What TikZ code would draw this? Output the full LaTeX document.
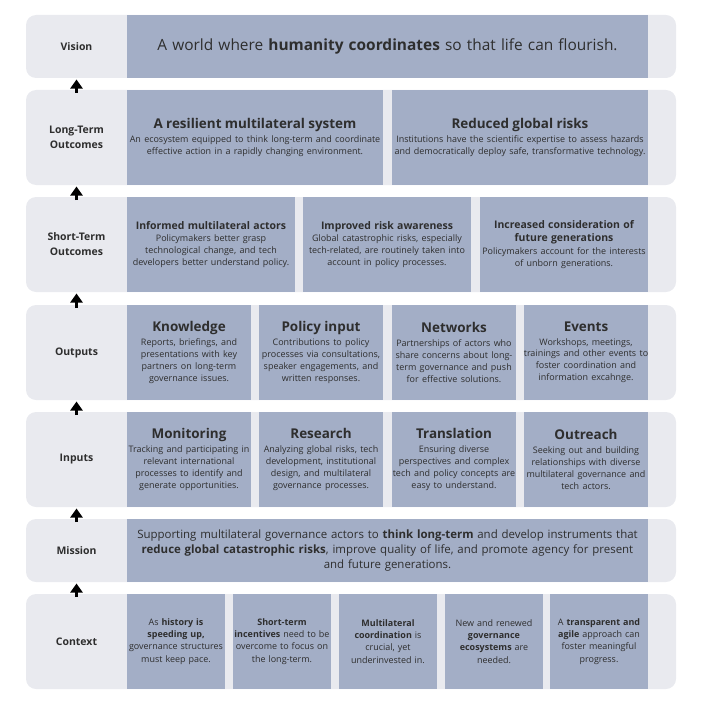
\documentclass[tikz,border=0pt]{standalone}
\usepackage{fontspec}
\setmainfont{Open Sans}
\usetikzlibrary{arrows.meta}
\definecolor{rowgray}{HTML}{E9EAEF}
\definecolor{cellblue}{HTML}{A3AEC6}
\definecolor{txt}{HTML}{2E2E2E}
\newcommand\myTitle[1]{{\fontsize{13.5}{15}\selectfont\bfseries #1\par}\vspace{1.5bp}}
\newcommand\mySmallTitle[1]{{\fontsize{10.5}{13}\selectfont\bfseries #1\par}\vspace{0.5bp}}
\newcommand\myBody{\fontsize{9}{12}\selectfont}
\begin{document}
\begin{tikzpicture}[x=1bp,y=-1bp,
  rowbg/.style={fill=rowgray, rounded corners=10bp, inner sep=0pt, outer sep=0pt,
    minimum width=650bp, anchor=north west},
  cell/.style={fill=cellblue, inner ysep=0pt, inner xsep=-4bp, outer sep=0pt, anchor=north west,
    align=center, text=txt},
  lab/.style={font=\fontsize{10.5}{15}\selectfont\bfseries, text=txt, align=center},
  up/.style={-{Triangle[width=12bp,length=9bp]}, line width=3.2bp, black,
    shorten >=1.5bp, shorten <=-3bp}]
\useasboundingbox (0,0) rectangle (704,704);

% ---------- row backgrounds ----------
\node[rowbg, minimum height=63bp] (rV)  at (26,15)  {};
\node[rowbg, minimum height=95bp] (rLT) at (26,90)  {};
\node[rowbg, minimum height=95bp] (rST) at (26,197) {};
\node[rowbg, minimum height=95bp] (rO)  at (26,305) {};
\node[rowbg, minimum height=95bp] (rI)  at (26,412) {};
\node[rowbg, minimum height=63bp] (rM)  at (26,519) {};
\node[rowbg, minimum height=95bp] (rC)  at (26,594) {};

% ---------- labels ----------
\node[lab] (lV)  at (76.5,46.5)  {Vision};
\node[lab] (lLT) at (76.5,137.5) {Long-Term\\Outcomes};
\node[lab] (lST) at (76.5,244.5) {Short-Term\\Outcomes};
\node[lab] (lO)  at (76.5,352.5) {Outputs};
\node[lab] (lI)  at (76.5,459.5) {Inputs};
\node[lab] (lM)  at (76.5,550.5) {Mission};
\node[lab] (lC)  at (76.5,641.5) {Context};

% ---------- vision ----------
\node[cell, minimum height=63bp, text width=529bp, font=\fontsize{15.5}{18}\selectfont] (cV) at (127,15)
  {A world where \textbf{humanity coordinates} so that life can flourish.};

% ---------- long-term outcomes ----------
\node[cell, minimum height=95bp, text width=264bp] (cLT1) at (127,90)
  {\myTitle{A resilient multilateral system}\myBody An ecosystem equipped to think long-term and coordinate\\effective action in a rapidly changing environment.};
\node[cell, minimum height=95bp, text width=264bp] (cLT2) at (392,90)
  {\myTitle{Reduced global risks}\myBody Institutions have the scientific expertise to assess hazards\\and democratically deploy safe, transformative technology.};

% ---------- short-term outcomes ----------
\node[cell, minimum height=95bp, text width=176bp] (cST1) at (127,197)
  {\mySmallTitle{Informed multilateral actors}\myBody Policymakers better grasp\\technological change, and tech\\developers better understand policy.};
\node[cell, minimum height=95bp, text width=176bp] (cST2) at (303,197)
  {\mySmallTitle{Improved risk awareness}\myBody Global catastrophic risks, especially\\tech-related, are routinely taken into\\account in policy processes.};
\node[cell, minimum height=95bp, text width=176bp] (cST3) at (480,197)
  {\mySmallTitle{Increased consideration of\\future generations}\myBody Policymakers account for the interests\\of unborn generations.};

% ---------- outputs ----------
\node[cell, minimum height=95bp, text width=132bp] (cO1) at (127,305)
  {\myTitle{Knowledge}\myBody Reports, briefings, and\\presentations with key\\partners on long-term\\governance issues.};
\node[cell, minimum height=95bp, text width=132bp] (cO2) at (259,305)
  {\myTitle{Policy input}\myBody Contributions to policy\\processes via consultations,\\speaker engagements, and\\written responses.};
\node[cell, minimum height=95bp, text width=132bp] (cO3) at (392,305)
  {\myTitle{Networks}\myBody Partnerships of actors who\\share concerns about long-\\term governance and push\\for effective solutions.};
\node[cell, minimum height=95bp, text width=132bp] (cO4) at (524,305)
  {\myTitle{Events}\myBody Workshops, meetings,\\trainings and other events to\\foster coordination and\\information excahnge.};

% ---------- inputs ----------
\node[cell, minimum height=95bp, text width=132bp] (cI1) at (127,412)
  {\myTitle{Monitoring}\myBody Tracking and participating in\\relevant international\\processes to identify and\\generate opportunities.};
\node[cell, minimum height=95bp, text width=132bp] (cI2) at (259,412)
  {\myTitle{Research}\myBody Analyzing global risks, tech\\development, institutional\\design, and multilateral\\governance processes.};
\node[cell, minimum height=95bp, text width=132bp] (cI3) at (392,412)
  {\myTitle{Translation}\myBody Ensuring diverse\\perspectives and complex\\tech and policy concepts are\\easy to understand.};
\node[cell, minimum height=95bp, text width=132bp] (cI4) at (524,412)
  {\myTitle{Outreach}\myBody Seeking out and building\\relationships with diverse\\multilateral governance and\\tech actors.};

% ---------- mission ----------
\node[cell, minimum height=63bp, text width=529bp, font=\fontsize{11.5}{15}\selectfont] (cM) at (127,519)
  {Supporting multilateral governance actors to \textbf{think long-term} and develop instruments that\\\textbf{reduce global catastrophic risks}, improve quality of life, and promote agency for present\\and future generations.};

% ---------- context ----------
\node[cell, minimum height=95bp, text width=106bp, font=\fontsize{9}{12.3}\selectfont] (cC1) at (127,594)
  {As \textbf{history is}\\\textbf{speeding up,}\\governance structures\\must keep pace.};
\node[cell, minimum height=95bp, text width=106bp, font=\fontsize{9}{12.3}\selectfont] (cC2) at (233,594)
  {\textbf{Short-term}\\\textbf{incentives} need to be\\overcome to focus on\\the long-term.};
\node[cell, minimum height=95bp, text width=106bp, font=\fontsize{9}{12.3}\selectfont] (cC3) at (339,594)
  {\textbf{Multilateral}\\\textbf{coordination} is\\crucial, yet\\underinvested in.};
\node[cell, minimum height=95bp, text width=106bp, font=\fontsize{9}{12.3}\selectfont] (cC4) at (445,594)
  {New and renewed\\\textbf{governance}\\\textbf{ecosystems} are\\needed.};
\node[cell, minimum height=95bp, text width=106bp, font=\fontsize{9}{12.3}\selectfont] (cC5) at (550,594)
  {A \textbf{transparent and}\\\textbf{agile} approach can\\foster meaningful\\progress.};

% ---------- arrows ----------
\draw[up] (rLT.north -| lV) -- (rV.south -| lV);
\draw[up] (rST.north -| lV) -- (rLT.south -| lV);
\draw[up] (rO.north -| lV)  -- (rST.south -| lV);
\draw[up] (rI.north -| lV)  -- (rO.south -| lV);
\draw[up] (rM.north -| lV)  -- (rI.south -| lV);
\draw[up] (rC.north -| lV)  -- (rM.south -| lV);
\end{tikzpicture}
\end{document}
